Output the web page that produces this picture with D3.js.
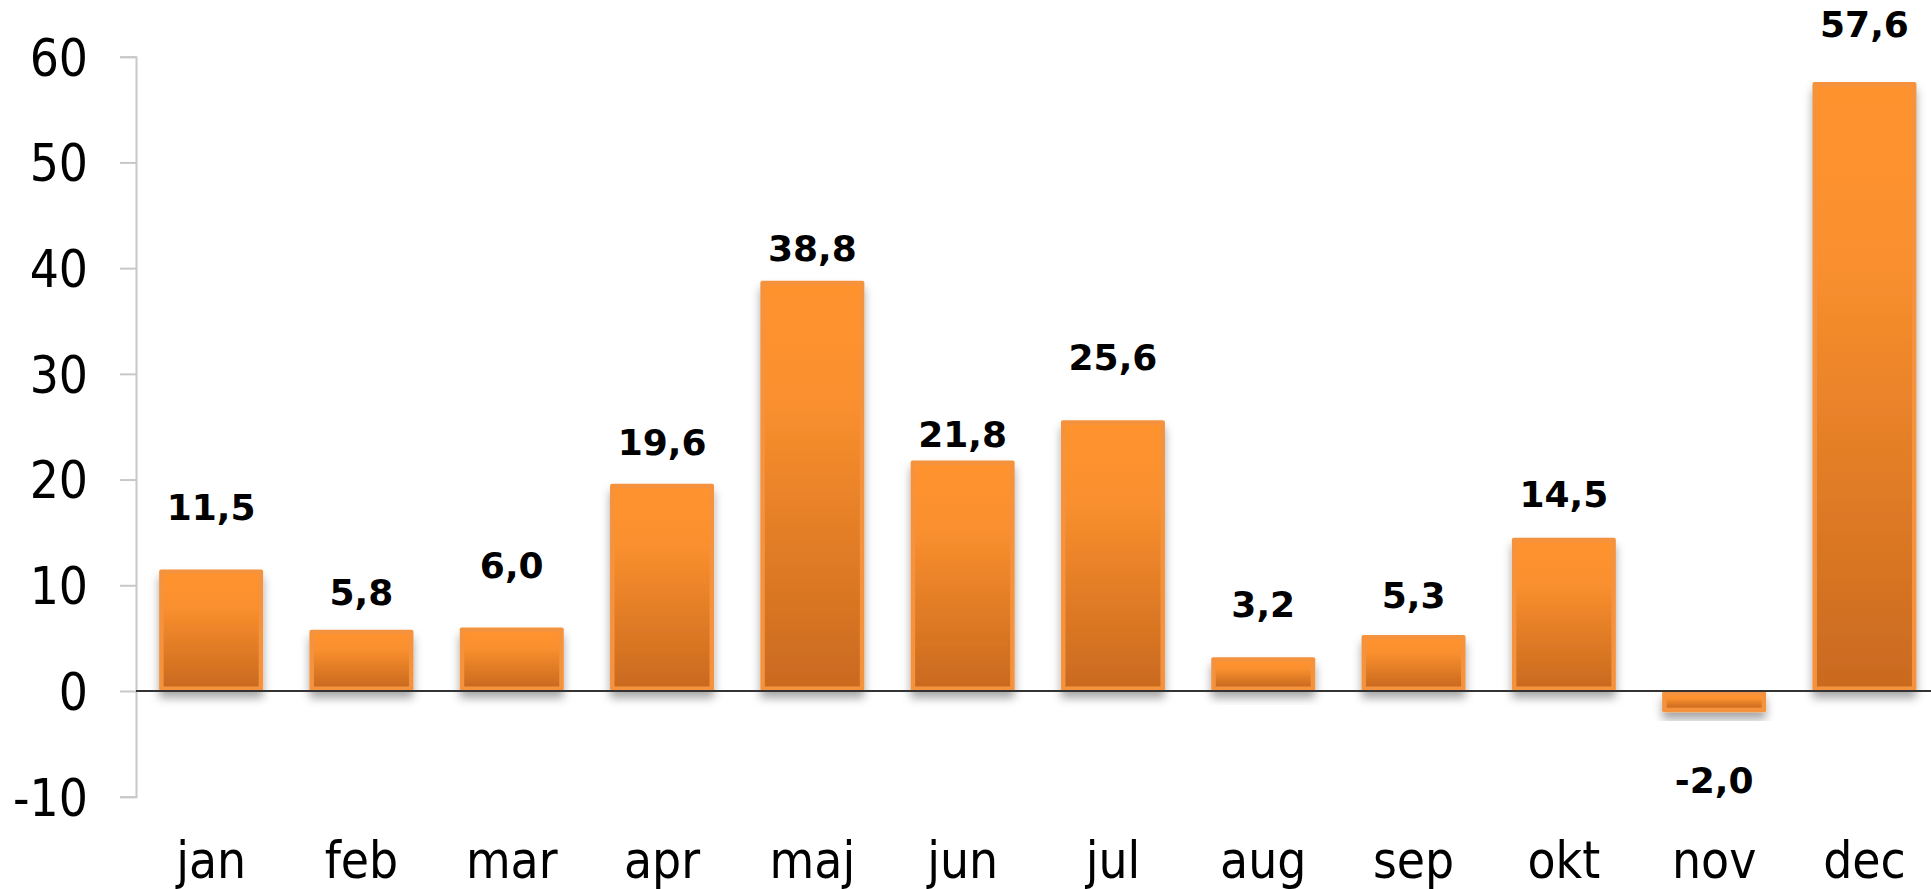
<!DOCTYPE html>
<html>
<head>
<meta charset="utf-8">
<script src="https://cdn.jsdelivr.net/npm/d3@7"></script>
<style>
  html, body { margin: 0; padding: 0; background: #ffffff; overflow: hidden; }
  svg { display: block; }
  .tick-lbl { font-family: "DejaVu Sans Condensed", "DejaVu Sans", sans-serif; font-stretch: condensed; }
  .val-lbl { font-family: "DejaVu Sans", sans-serif; font-weight: bold; }
</style>
</head>
<body>
<script>
// ---- data ----
const months = ["jan", "feb", "mar", "apr", "maj", "jun", "jul", "aug", "sep", "okt", "nov", "dec"];
const values = [11.5, 5.8, 6.0, 19.6, 38.8, 21.8, 25.6, 3.2, 5.3, 14.5, -2.0, 57.6];
const yTicks = [-10, 0, 10, 20, 30, 40, 50, 60];

// ---- layout ----
const W = 1931, H = 889;
// vertical offset (px) of each value label's baseline from the bar end, as placed in the original
const labelLift = [49, 25, 50, 29, 20, 14, 50, 40, 27, 31, -81, 45];

const svg = d3.select("body").append("svg").attr("width", W).attr("height", H);

const defs = svg.append("defs");
const grad = defs.append("linearGradient").attr("id", "barGrad")
  .attr("x1", 0).attr("y1", 0).attr("x2", 0).attr("y2", 1);
grad.append("stop").attr("offset", "0%").attr("stop-color", "#FF932F");
grad.append("stop").attr("offset", "30%").attr("stop-color", "#F98F2E");
grad.append("stop").attr("offset", "100%").attr("stop-color", "#CA6A1F");

const shadow = defs.append("filter").attr("id", "shadow")
  .attr("x", "-20%").attr("y", "-20%").attr("width", "140%").attr("height", "160%");
shadow.append("feDropShadow").attr("dx", 0).attr("dy", 7).attr("stdDeviation", 5)
  .attr("flood-color", "#000").attr("flood-opacity", 0.35);

const x = d3.scaleBand().domain(months).range([136, 136 + 12 * 150.3])
  .paddingInner(0.308).paddingOuter(0.154);
const y = d3.scaleLinear().domain([-10, 60]).range([796.7, 56.7]);

// y axis
const yAxis = d3.axisLeft(y).tickValues(yTicks).tickSize(16).tickPadding(32).tickFormat(d3.format("d"));
const gy = svg.append("g").attr("transform", "translate(136,0)").call(yAxis);
gy.select(".domain").attr("stroke", "#c8c8c8").attr("stroke-width", 2);
gy.selectAll(".tick line").attr("stroke", "#c8c8c8").attr("stroke-width", 2);
gy.selectAll(".tick text")
  .attr("class", "tick-lbl")
  .attr("fill", "#000")
  .style("font-size", "51px")
  .attr("dy", "0.36em");
gy.selectAll(".tick text").text(d => d < 0 ? "-" + Math.abs(d) : d);

// bars
const bars = svg.append("g");
const bar = bars.selectAll("g.bar").data(values).join("g").attr("class", "bar")
  .attr("filter", "url(#shadow)");
bar.append("rect")
  .attr("x", (d, i) => x(months[i]))
  .attr("width", x.bandwidth())
  .attr("y", d => y(Math.max(0, d)))
  .attr("height", d => Math.abs(y(d) - y(0)))
  .attr("rx", 2)
  .attr("fill", "#F5923D");
bar.append("rect")
  .attr("x", (d, i) => x(months[i]) + 4.5)
  .attr("width", x.bandwidth() - 9)
  .attr("y", d => y(Math.max(0, d)) + 4.5)
  .attr("height", d => Math.max(0, Math.abs(y(d) - y(0)) - 9))
  .attr("fill", "url(#barGrad)");

// zero line
svg.append("line")
  .attr("x1", 136).attr("x2", W)
  .attr("y1", y(0)).attr("y2", y(0))
  .attr("stroke", "#333").attr("stroke-width", 2);

// x axis labels
const xAxis = d3.axisBottom(x).tickSize(0).tickPadding(0);
const gx = svg.append("g").attr("transform", "translate(0,878)").call(xAxis);
gx.select(".domain").remove();
gx.selectAll(".tick text")
  .attr("class", "tick-lbl")
  .attr("fill", "#000")
  .attr("y", 0).attr("dy", 0)
  .style("font-size", "51px");

// value labels
const fmt = v => (v < 0 ? "-" : "") + Math.abs(v).toFixed(1).replace(".", ",");
svg.append("g").selectAll("text").data(values).join("text")
  .attr("class", "val-lbl")
  .attr("x", (d, i) => x(months[i]) + x.bandwidth() / 2)
  .attr("y", (d, i) => d >= 0 ? y(d) - labelLift[i] : y(d) - labelLift[i])
  .attr("text-anchor", "middle")
  .style("font-size", "36px")
  .attr("fill", "#000")
  .text(fmt);
</script>
</body>
</html>
